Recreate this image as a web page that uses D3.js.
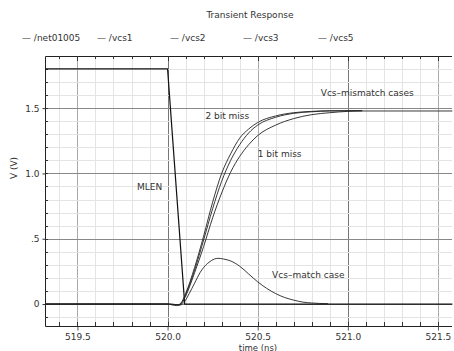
<!DOCTYPE html>
<html>
<head>
<meta charset="utf-8">
<script src="https://cdn.jsdelivr.net/npm/d3@7"></script>
<style>
  body { margin: 0; background: #fff; }
  svg { display: block; font-family: "DejaVu Sans", sans-serif; }
  text { fill: #333; font-size: 9px; }
</style>
</head>
<body>
<svg width="454" height="351"></svg>
<script>
// series data: [time (ns), volts]
var mlen = [[519.32, 1.8], [520.0, 1.8], [520.095, 0.0], [521.58, 0.0]];
var vcsMatch = [[519.32, 0], [520.0, 0], [520.03, -0.008], [520.05, -0.012], [520.07, -0.008], [520.09, 0.01],
    [520.1, 0.03], [520.12, 0.08], [520.15, 0.16], [520.18, 0.24], [520.2, 0.28], [520.23, 0.32], [520.26, 0.345],
    [520.28, 0.35], [520.31, 0.345], [520.35, 0.33], [520.4, 0.29], [520.45, 0.23], [520.5, 0.17], [520.55, 0.12],
    [520.6, 0.08], [520.65, 0.05], [520.7, 0.03], [520.75, 0.015], [520.8, 0.008], [520.89, 0.003]];
var vcsMiss2a = [[519.32, 0], [520.0, 0], [520.06, -0.005], [520.08, 0.02], [520.1, 0.08], [520.15, 0.28], [520.2, 0.52],
    [520.25, 0.78], [520.3, 1.0], [520.35, 1.15], [520.4, 1.27], [520.45, 1.34], [520.5, 1.39], [520.6, 1.44],
    [520.7, 1.465], [520.8, 1.475], [520.9, 1.48], [521.08, 1.48]];
var vcsMiss2b = [[519.32, 0], [520.0, 0], [520.06, -0.005], [520.08, 0.01], [520.1, 0.07], [520.15, 0.26], [520.2, 0.49],
    [520.25, 0.73], [520.3, 0.94], [520.35, 1.1], [520.4, 1.22], [520.45, 1.31], [520.5, 1.37], [520.6, 1.43],
    [520.7, 1.46], [520.8, 1.472], [520.9, 1.478], [521.08, 1.48]];
var vcsMiss1 = [[519.32, 0], [520.0, 0], [520.06, -0.005], [520.08, 0.01], [520.1, 0.06], [520.15, 0.24], [520.2, 0.44],
    [520.25, 0.66], [520.3, 0.85], [520.35, 1.01], [520.4, 1.13], [520.45, 1.22], [520.5, 1.29], [520.6, 1.37],
    [520.7, 1.42], [520.8, 1.45], [520.9, 1.465], [521.0, 1.475], [521.08, 1.478], [521.58, 1.478]];

var legendNames = ["/net01005", "/vcs1", "/vcs2", "/vcs3", "/vcs5"];
var xTicks = [519.5, 520.0, 520.5, 521.0, 521.5];
var yTicks = [0, 0.5, 1.0, 1.5];
var yTickLabels = ["0", ".5", "1.0", "1.5"];
var notes = [
    { text: "Vcs\u2013mismatch cases", t: 520.85, v: 1.615 },
    { text: "2 bit miss", t: 520.21, v: 1.44 },
    { text: "1 bit miss", t: 520.5, v: 1.15 },
    { text: "MLEN", t: 519.83, v: 0.9 },
    { text: "Vcs\u2013match case", t: 520.58, v: 0.22 }
];

var svg = d3.select("svg");
var x = d3.scaleLinear().domain([519.32, 521.578]).range([45, 452]);
var y = d3.scaleLinear().domain([-0.168, 1.899]).range([326, 56]);
var round1 = function (d) { return Math.round(d * 10) / 10; };

var grid = svg.append("g");
// minor grid every 0.1
grid.selectAll(".vmin").data(d3.range(519.4, 521.58, 0.1).map(round1))
    .enter().append("line")
    .attr("x1", function (d) { return Math.round(x(d)) + 0.5; })
    .attr("x2", function (d) { return Math.round(x(d)) + 0.5; })
    .attr("y1", 56).attr("y2", 326)
    .attr("stroke", function (d) {
        if (Math.abs(d % 1) < 1e-6 || Math.abs(d % 1 - 1) < 1e-6) return "#777";
        if (Math.abs(d * 2 - Math.round(d * 2)) < 1e-6) return "#aaa";
        return "#e4e4e4";
    });
grid.selectAll(".hmin").data(d3.range(-0.1, 1.9, 0.1).map(round1))
    .enter().append("line")
    .attr("x1", 45).attr("x2", 452)
    .attr("y1", function (d) { return Math.round(y(d)) + 0.5; })
    .attr("y2", function (d) { return Math.round(y(d)) + 0.5; })
    .attr("stroke", function (d) {
        return Math.abs(d * 2 - Math.round(d * 2)) < 1e-6 ? "#888" : "#e4e4e4";
    });

// frame
svg.append("path")
    .attr("d", "M45.5,56.5H452M45.5,56.5V326.5H452")
    .attr("fill", "none").attr("stroke", "#222");

// axes
var xAxis = d3.axisBottom(x).tickValues(xTicks).tickFormat(d3.format(".1f")).tickSize(4);
var gx = svg.append("g").attr("transform", "translate(0,326.5)").call(xAxis);
gx.select(".domain").remove();
gx.selectAll("text").attr("font-size", 9).attr("fill", "#333").attr("font-family", "DejaVu Sans").attr("y", 6).attr("dy", "0.8em");
gx.selectAll("line").attr("stroke", "#555");
var yAxis = d3.axisLeft(y).tickValues(yTicks).tickFormat(function (d, i) { return yTickLabels[i]; }).tickSize(3);
var gy = svg.append("g").attr("transform", "translate(45.5,0)").call(yAxis);
gy.select(".domain").remove();
gy.selectAll("text").attr("font-size", 9).attr("fill", "#333").attr("font-family", "DejaVu Sans");
gy.selectAll("line").attr("stroke", "#333");

// small inner ticks
svg.append("g").selectAll("line").data(d3.range(-0.1, 1.9, 0.1).map(round1))
    .enter().append("line")
    .attr("x1", 45).attr("x2", 48)
    .attr("y1", function (d) { return Math.round(y(d)) + 0.5; })
    .attr("y2", function (d) { return Math.round(y(d)) + 0.5; })
    .attr("stroke", "#333");
svg.append("g").selectAll("line").data(d3.range(519.4, 521.58, 0.1).map(round1))
    .enter().append("line")
    .attr("x1", function (d) { return Math.round(x(d)) + 0.5; })
    .attr("x2", function (d) { return Math.round(x(d)) + 0.5; })
    .attr("y1", 322).attr("y2", 326)
    .attr("stroke", "#333");
svg.append("g").selectAll("line").data(d3.range(519.4, 521.58, 0.1).map(round1))
    .enter().append("line")
    .attr("x1", function (d) { return Math.round(x(d)) + 0.5; })
    .attr("x2", function (d) { return Math.round(x(d)) + 0.5; })
    .attr("y1", 56).attr("y2", function (d) { return Math.abs(d * 2 - Math.round(d * 2)) < 1e-6 ? 61 : 59; })
    .attr("stroke", "#333");

// curves
var lineSmooth = d3.line().x(function (d) { return x(d[0]); }).y(function (d) { return y(d[1]); }).curve(d3.curveMonotoneX);
var lineStraight = d3.line().x(function (d) { return x(d[0]); }).y(function (d) { return y(d[1]); });
svg.append("path").datum(mlen).attr("d", lineStraight).attr("fill", "none").attr("stroke", "#111").attr("stroke-width", 1.2);
[vcsMatch, vcsMiss2a, vcsMiss2b, vcsMiss1].forEach(function (s) {
    svg.append("path").datum(s).attr("d", lineSmooth).attr("fill", "none").attr("stroke", "#222").attr("stroke-width", 0.9);
});

// annotations
svg.selectAll(".note").data(notes).enter().append("text")
    .attr("x", function (d) { return x(d.t); })
    .attr("y", function (d) { return y(d.v); })
    .attr("dy", "0.35em")
    .text(function (d) { return d.text; });

// title, legend, axis titles
svg.append("text").attr("x", 250).attr("y", 18).attr("text-anchor", "middle").text("Transient Response");
var legX = [22, 97, 170, 243, 318];
svg.selectAll(".leg").data(legendNames).enter().append("text")
    .attr("x", function (d, i) { return legX[i]; })
    .attr("y", 41)
    .text(function (d) { return "\u2014 " + d; });
svg.append("text").attr("x", 258).attr("y", 350.5).attr("text-anchor", "middle").style("font-size", "8.5px").text("time (ns)");
svg.append("text").attr("transform", "translate(17,168) rotate(-90)").attr("text-anchor", "middle").text("V (V)");
</script>
</body>
</html>
